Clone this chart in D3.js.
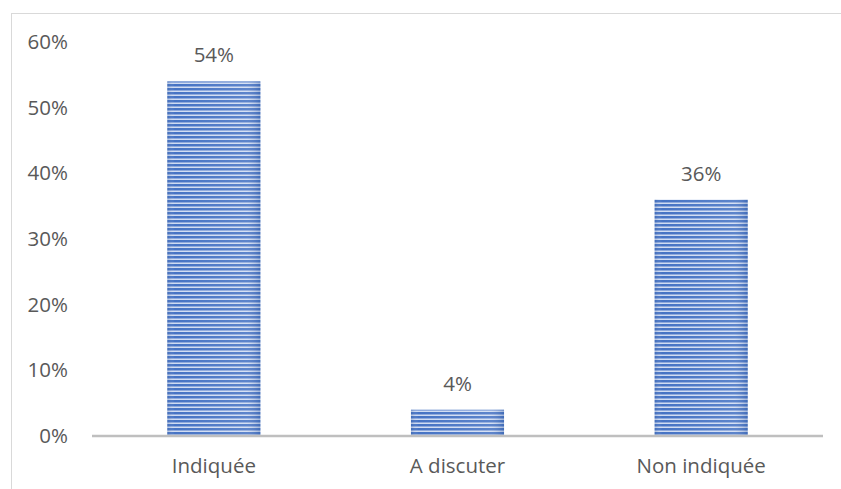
<!DOCTYPE html>
<html>
<head>
<meta charset="utf-8">
<script src="https://cdn.jsdelivr.net/npm/d3@7"></script>
<style>
  html, body { margin: 0; padding: 0; background: #fff; }
  svg { display: block; }
  text { font-family: "Open Sans", "Noto Sans", sans-serif; fill: #595959; }
</style>
</head>
<body>
<script>
// Share of responses per category
const categories = ["Indiquée", "A discuter", "Non indiquée"];
const values = [0.54, 0.04, 0.36];
const yTicks = [0, 0.1, 0.2, 0.3, 0.4, 0.5, 0.6];

const W = 841, H = 489;
const margin = { left: 92, right: 18, top: 42, bottom: 53 };
const FONT = "20.5px";

const svg = d3.select("body").append("svg")
  .attr("width", W).attr("height", H);

// chart frame (only top and left edges fall inside the view)
svg.append("rect")
  .attr("x", 11.5).attr("y", 13.5)
  .attr("width", W + 10).attr("height", H + 10)
  .attr("fill", "none").attr("stroke", "#d9d9d9").attr("stroke-width", 1);

const defs = svg.append("defs");

// horizontal stripe fill for the bars
const pat = defs.append("pattern")
  .attr("id", "stripes")
  .attr("patternUnits", "userSpaceOnUse")
  .attr("width", 8).attr("height", 4);
pat.append("rect").attr("width", 8).attr("height", 4).attr("fill", "#d0dcf2");
pat.append("rect").attr("y", 0).attr("width", 8).attr("height", 2).attr("fill", "#4673c4");
pat.append("rect").attr("y", 2).attr("width", 8).attr("height", 1).attr("fill", "#8ea9dc");

// soft edge shading across each bar
const grad = defs.append("linearGradient")
  .attr("id", "edge").attr("x1", 0).attr("x2", 1).attr("y1", 0).attr("y2", 0);
grad.append("stop").attr("offset", "0").attr("stop-color", "#2f5597").attr("stop-opacity", 0.25);
grad.append("stop").attr("offset", "0.08").attr("stop-color", "#ffffff").attr("stop-opacity", 0);
grad.append("stop").attr("offset", "0.85").attr("stop-color", "#ffffff").attr("stop-opacity", 0.12);
grad.append("stop").attr("offset", "1").attr("stop-color", "#2f5597").attr("stop-opacity", 0.3);

const x = d3.scaleBand()
  .domain(categories)
  .range([margin.left, W - margin.right])
  .paddingInner(0.618)
  .paddingOuter(0.309);

const y = d3.scaleLinear()
  .domain([0, 0.6])
  .range([H - margin.bottom, margin.top]);

// y-axis labels (no axis line, no ticks)
const yAxis = d3.axisLeft(y).tickValues(yTicks).tickFormat(d3.format(".0%")).tickSize(0).tickPadding(24);
const gy = svg.append("g").attr("transform", `translate(${margin.left},0)`).call(yAxis);
gy.select(".domain").remove();
gy.selectAll("text").style("font-size", FONT).attr("fill", "#595959")
  .attr("font-family", "'Open Sans', 'Noto Sans', sans-serif");

// bars
const bars = svg.append("g").selectAll("g").data(categories).join("g");
bars.append("rect")
  .attr("x", d => x(d))
  .attr("y", (d, i) => y(values[i]))
  .attr("width", x.bandwidth())
  .attr("height", (d, i) => y(0) - y(values[i]))
  .attr("fill", "url(#stripes)");
bars.append("rect")
  .attr("x", d => x(d))
  .attr("y", (d, i) => y(values[i]))
  .attr("width", x.bandwidth())
  .attr("height", (d, i) => y(0) - y(values[i]))
  .attr("fill", "url(#edge)");

// value labels
bars.append("text")
  .attr("x", d => x(d) + x.bandwidth() / 2)
  .attr("y", (d, i) => y(values[i]) - 19)
  .attr("text-anchor", "middle")
  .style("font-size", FONT)
  .text((d, i) => d3.format(".0%")(values[i]));

// x-axis baseline and category labels
const xAxis = d3.axisBottom(x).tickSize(0).tickPadding(22);
const gx = svg.append("g").attr("transform", `translate(0,${y(0)})`).call(xAxis);
gx.select(".domain").attr("stroke", "#bfbfbf").attr("stroke-width", 2.5)
  .attr("d", `M${margin.left},0H${W - margin.right}`);
gx.selectAll("text").style("font-size", FONT).attr("fill", "#595959")
  .attr("font-family", "'Open Sans', 'Noto Sans', sans-serif");
</script>
</body>
</html>
